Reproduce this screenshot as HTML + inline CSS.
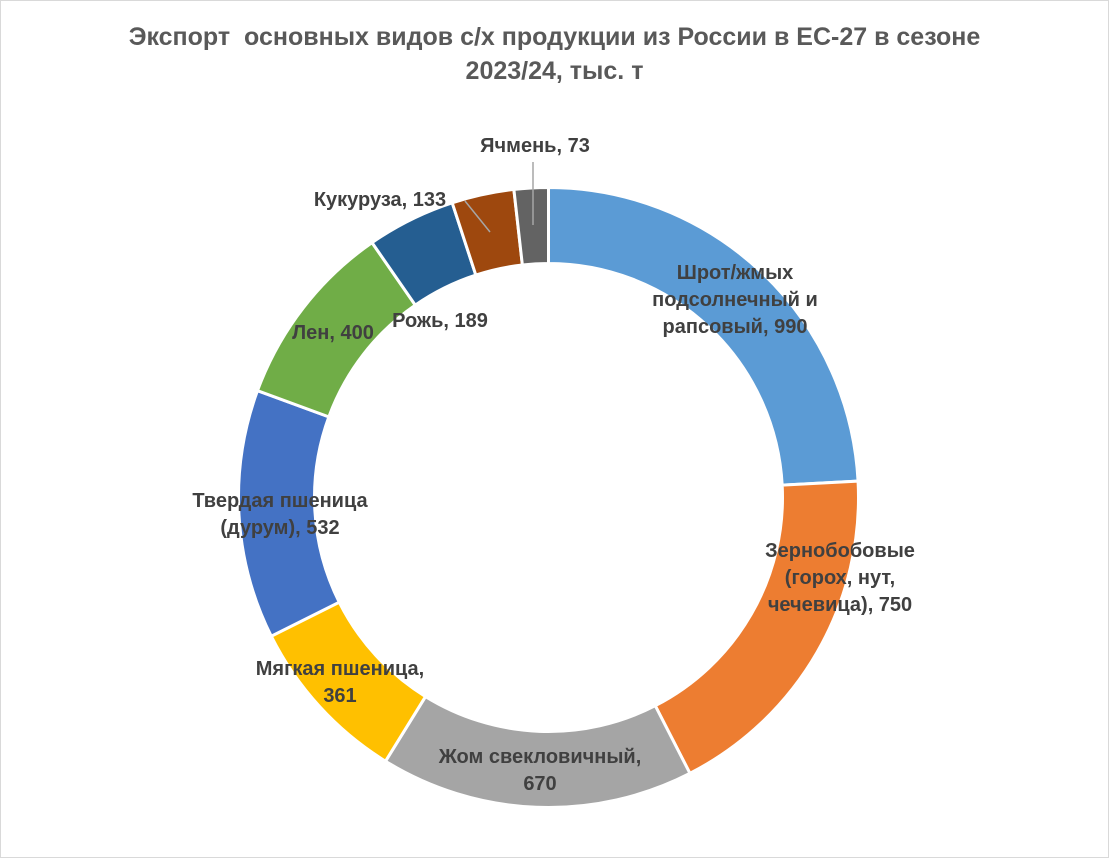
<!DOCTYPE html>
<html><head><meta charset="utf-8"><style>
html,body{margin:0;padding:0;background:#fff}
body{width:1109px;height:858px;overflow:hidden;font-family:"Liberation Sans",sans-serif}
.frame{position:absolute;left:0;top:0;width:1107px;height:856px;border:1px solid #d9d9d9}
.t{position:absolute;left:0;width:1109px;text-align:center;font-weight:bold;font-size:25px;color:#595959;line-height:34px}
.l{position:absolute;font-weight:bold;font-size:20px;color:#404040;line-height:27px;text-align:center;white-space:nowrap}
</style></head><body>
<div class="frame"></div>
<div class="t" style="top:20px">Экспорт&nbsp; основных видов с/х продукции из России в ЕС-27 в сезоне<br>2023/24, тыс. т</div>
<svg id="s" width="1109" height="858" style="position:absolute;left:0;top:0">
<line x1="533" y1="162" x2="533" y2="225" stroke="#a6a6a6" stroke-width="1.5"/>
<line x1="465" y1="201" x2="490" y2="232" stroke="#a6a6a6" stroke-width="1.5"/>
</svg>
<div class="l" style="left:635px;top:260px;width:200px">Шрот/жмых<br>подсолнечный и<br>рапсовый, 990</div>
<div class="l" style="left:740px;top:538px;width:200px">Зернобобовые<br>(горох, нут,<br>чечевица), 750</div>
<div class="l" style="left:420px;top:744px;width:240px">Жом свекловичный,<br>670</div>
<div class="l" style="left:240px;top:656px;width:200px">Мягкая пшеница,<br>361</div>
<div class="l" style="left:160px;top:488px;width:240px">Твердая пшеница<br>(дурум), 532</div>
<div class="l" style="left:273px;top:320px;width:120px">Лен, 400</div>
<div class="l" style="left:370px;top:308px;width:140px">Рожь, 189</div>
<div class="l" style="left:295px;top:187px;width:170px">Кукуруза, 133</div>
<div class="l" style="left:460px;top:133px;width:150px">Ячмень, 73</div>
<script>
var d=[[990,"#5b9bd5"],[750,"#ed7d31"],[670,"#a5a5a5"],[361,"#ffc000"],[532,"#4472c4"],[400,"#70ad47"],[189,"#255e91"],[133,"#9e480e"],[73,"#636363"]];
var tot=0;d.forEach(function(x){tot+=x[0]});
var cx=548.5,cy=497.5,R=310,r=234,a=0,s=document.getElementById('s'),h='';
function p(rad,ang){return [cx+rad*Math.sin(ang),cy-rad*Math.cos(ang)]}
d.forEach(function(x){var b=a+x[0]/tot*2*Math.PI,l=(b-a)>Math.PI?1:0;
var A=p(R,a),B=p(R,b),C=p(r,b),D=p(r,a);
h+='<path d="M'+A+' A'+R+','+R+' 0 '+l+' 1 '+B+' L'+C+' A'+r+','+r+' 0 '+l+' 0 '+D+' Z" fill="'+x[1]+'" stroke="#fff" stroke-width="3"/>';a=b;});
s.insertAdjacentHTML('afterbegin',h);
</script>
</body></html>
